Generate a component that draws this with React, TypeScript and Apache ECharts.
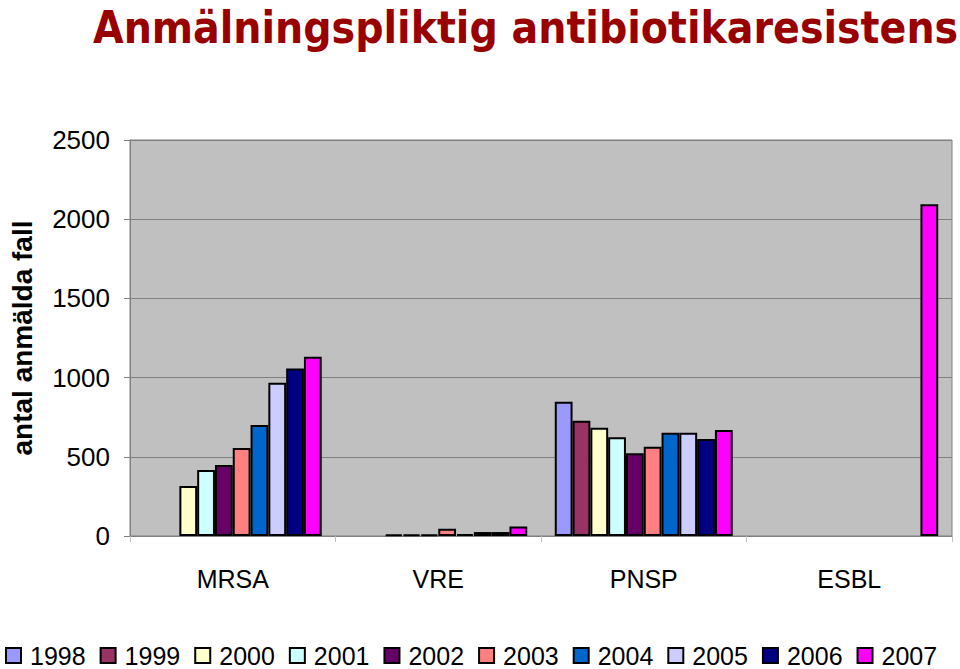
import React, { useEffect, useRef } from "react";
import * as echarts from "echarts";

const categories = ["MRSA", "VRE", "PNSP", "ESBL"];
const years = ["1998", "1999", "2000", "2001", "2002", "2003", "2004", "2005", "2006", "2007"];
const colors = ["#9999FF", "#993366", "#FFFFCC", "#CCFFFF", "#660066", "#FF8080", "#0066CC", "#CCCCFF", "#000080", "#FF00FF"];
// values per year: [MRSA, VRE, PNSP, ESBL]
const v1998 = [null, null, 848, null];
const v1999 = [null, null, 728, null];
const v2000 = [315, 10, 683, null];
const v2001 = [416, 10, 623, null];
const v2002 = [448, 10, 522, null];
const v2003 = [555, 45, 564, null];
const v2004 = [700, 12, 652, null];
const v2005 = [967, 25, 652, null];
const v2006 = [1058, 25, 612, null];
const v2007 = [1131, 60, 669, 2095];
const seriesValues = [v1998, v1999, v2000, v2001, v2002, v2003, v2004, v2005, v2006, v2007];

export default function App() {
  const ref = useRef<HTMLDivElement>(null);
  useEffect(() => {
    if (!ref.current) return;
    const chart = echarts.init(ref.current, null, { renderer: "svg" });
    const font = "'Liberation Sans', Arial, sans-serif";
    chart.setOption({
      animation: false,
      backgroundColor: "#ffffff",
      title: {
        text: "Anmälningspliktig antibiotikaresistens",
        left: 88,
        top: 0,
        textStyle: {
          fontFamily: "'Comic Sans MS', 'Liberation Sans Narrow', 'DejaVu Sans Condensed', sans-serif",
          fontSize: 44,
          fontWeight: "bold",
          color: "#990000",
        },
      },
      legend: {
        top: 643,
        left: 5,
        width: 955,
        padding: 0,
        itemWidth: 15,
        itemHeight: 15,
        itemGap: 14,
        icon: "rect",
        data: years,
        textStyle: { fontFamily: font, fontSize: 25, lineHeight: 22, color: "#000", padding: [0, 0, 0, 4] },
      },
      grid: {
        left: 130,
        right: 8,
        top: 140,
        bottom: 133,
        show: true,
        backgroundColor: "#c0c0c0",
        borderColor: "#808080",
        borderWidth: 1,
      },
      xAxis: {
        type: "category",
        data: categories,
        axisLine: { lineStyle: { color: "#808080", width: 1 } },
        axisTick: { show: true, length: 6, lineStyle: { color: "#c0c0c0" } },
        axisLabel: { fontFamily: font, fontSize: 25, color: "#000", margin: 30 },
      },
      yAxis: {
        type: "value",
        min: 0,
        max: 2500,
        interval: 500,
        name: "antal anmälda fall",
        nameLocation: "middle",
        nameGap: 94,
        nameTextStyle: { fontFamily: font, fontSize: 28, fontWeight: "bold", color: "#000" },
        axisLine: { show: true, lineStyle: { color: "#808080" } },
        axisTick: { show: true, length: 6, lineStyle: { color: "#808080" } },
        axisLabel: {
          fontFamily: font,
          fontSize: 26,
          color: "#000",
          margin: 20,
          formatter: (v: number) => String(v),
        },
        splitLine: { lineStyle: { color: "#808080", width: 1 } },
      },
      series: years.map((y, i) => ({
        name: y,
        type: "bar",
        data: seriesValues[i],
        barGap: "0%",
        barCategoryGap: "13.4%",
        itemStyle: { color: colors[i], borderColor: "#000", borderWidth: 2 },
      })),
    });
    return () => chart.dispose();
  }, []);
  return <div ref={ref} style={{ width: 960, height: 669, position: "absolute", left: 0, top: 0 }} />;
}
